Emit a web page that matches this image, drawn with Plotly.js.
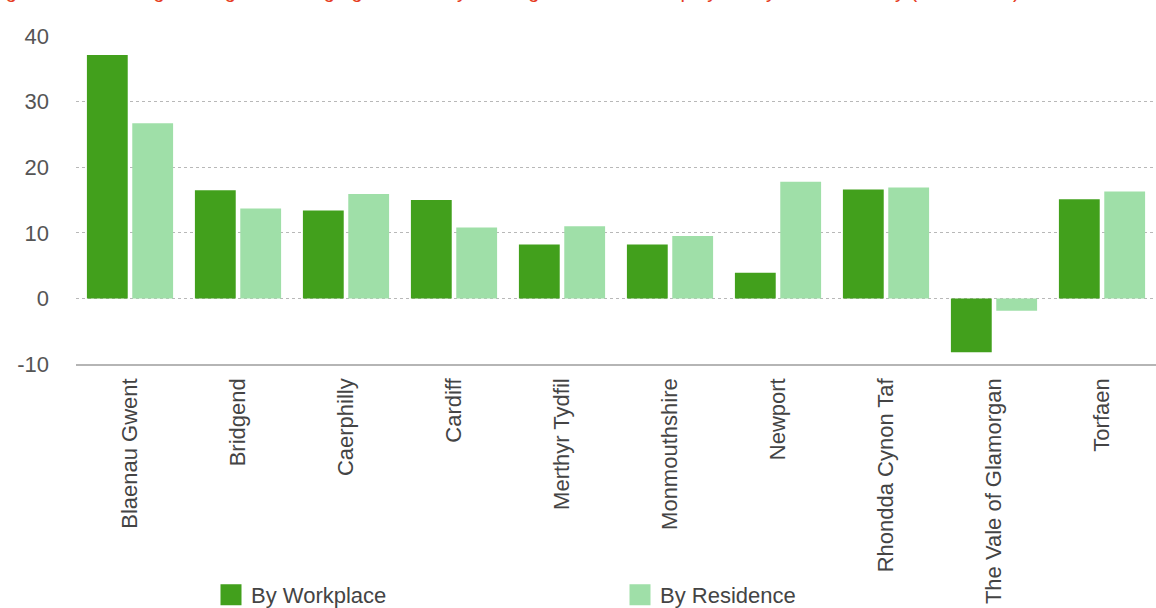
<!DOCTYPE html>
<html>
<head>
<meta charset="utf-8">
<script src="https://cdn.plot.ly/plotly-3.0.1.min.js"></script>
<style>html,body{margin:0;padding:0;background:#fff;overflow:hidden}#chart{width:1156px;height:608px}</style>
</head>
<body>
<div id="chart"></div>
<script>
const categories = ["Blaenau Gwent","Bridgend","Caerphilly","Cardiff","Merthyr Tydfil","Monmouthshire","Newport","Rhondda Cynon Taf","The Vale of Glamorgan","Torfaen"];
const byWorkplace = [37.1, 16.5, 13.4, 15.0, 8.2, 8.2, 3.9, 16.6, -8.2, 15.1];
const byResidence = [26.7, 13.7, 15.9, 10.8, 11.0, 9.5, 17.8, 16.9, -1.9, 16.3];
const seriesNames = ["By Workplace", "By Residence"];
const titleText = "Figure 3: Percentage change in average gross weekly earnings of full-time employees by local authority (2008-2018)";

const darkGreen = "#42a01c";
const lightGreen = "#9fdfa8";
const font = "Liberation Sans, Arial, Helvetica, sans-serif";

const data = [
  {type:"bar", x:categories, y:byWorkplace, name:seriesNames[0], marker:{color:darkGreen}, showlegend:false, hoverinfo:"y"},
  {type:"bar", x:categories, y:byResidence, name:seriesNames[1], marker:{color:lightGreen}, showlegend:false, hoverinfo:"y"},
  {type:"scatter", mode:"markers", x:[null], y:[null], name:seriesNames[0], marker:{symbol:"square", color:darkGreen, size:22, line:{color:darkGreen, width:5}}},
  {type:"scatter", mode:"markers", x:[null], y:[null], name:seriesNames[1], marker:{symbol:"square", color:lightGreen, size:22, line:{color:lightGreen, width:5}}}
];

const layout = {
  width:1156, height:608,
  margin:{l:76, r:0, t:36, b:244, pad:0, autoexpand:false},
  paper_bgcolor:"#fff", plot_bgcolor:"#fff",
  font:{family:font, size:22, color:"#555"},
  barmode:"group", bargap:0.16, bargroupgap:0.1,
  xaxis:{
    type:"category", tickangle:-90, showgrid:false, zeroline:false,
    showline:true, linecolor:"#b5b5b5", linewidth:1.5,
    ticks:"", ticklabelstandoff:4, automargin:false,
    tickfont:{family:font, size:22, color:"#444"}
  },
  yaxis:{
    range:[-10, 40], tickvals:[-10,0,10,20,30,40], ticktext:["-10","0","10","20","30","40"],
    showgrid:true, gridcolor:"#b8b8b8", griddash:"dot", gridwidth:1,
    zeroline:false, showline:false, ticks:"", ticklabelstandoff:26, automargin:false,
    tickfont:{family:font, size:22, color:"#555"}
  },
  legend:{
    orientation:"h", xref:"paper", x:0.125, xanchor:"left",
    yref:"paper", y:-0.704, yanchor:"middle",
    entrywidth:364, entrywidthmode:"pixels", itemsizing:"trace",
    font:{family:font, size:22, color:"#444"}, bgcolor:"rgba(0,0,0,0)"
  },
  annotations:[{
    text:titleText, xref:"paper", yref:"paper", x:0.876, y:1, xanchor:"right", yanchor:"bottom",
    yshift:32, showarrow:false, font:{family:font, size:20, color:"#e63b22"}
  }]
};

Plotly.newPlot("chart", data, layout, {displayModeBar:false, staticPlot:true});
</script>
</body>
</html>
